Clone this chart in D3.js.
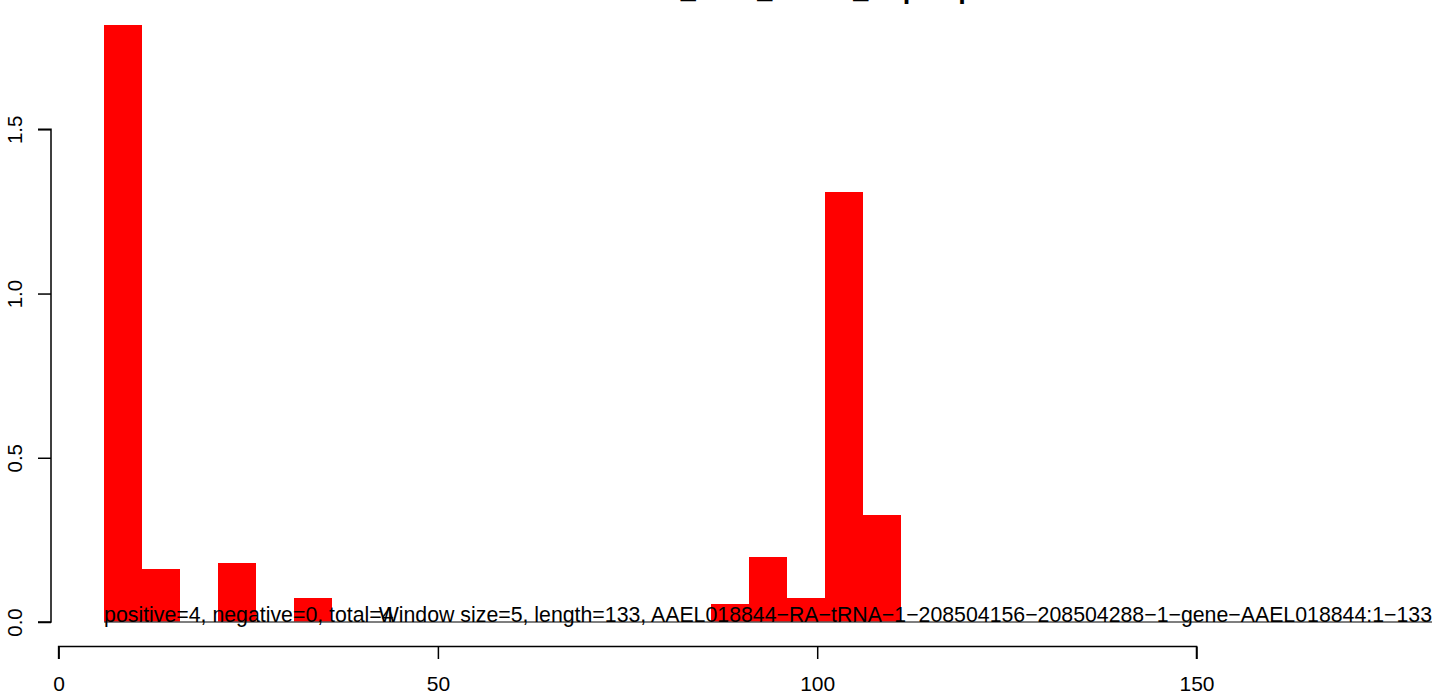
<!DOCTYPE html>
<html>
<head>
<meta charset="utf-8">
<script src="https://cdn.jsdelivr.net/npm/d3@7/dist/d3.min.js"></script>
<style>
  html, body { margin: 0; padding: 0; background: #fff; }
  svg { display: block; }
  text { font-family: "Liberation Sans", Arial, sans-serif; }
</style>
</head>
<body>
<svg id="chart" width="1436" height="697"></svg>
<script>
// ---- data ----
const windowStarts = [6, 11, 21, 31, 86, 91, 96, 101, 106];
const windowValues = [1.818, 0.161, 0.180, 0.073, 0.055, 0.198, 0.074, 1.309, 0.326];
const windowSize = 5;
const xTicks = [0, 50, 100, 150];
const yTicks = [0, 0.5, 1.0, 1.5];
const yTickLabels = ["0.0", "0.5", "1.0", "1.5"];
const titleText = "AAEL018844_ZIKV_siRNA_Repseq";
const countsText = "positive=4, negative=0, total=4";
const infoText = "Window size=5, length=133, AAEL018844\u2212RA\u2212tRNA\u22121\u2212208504156\u2212208504288\u22121\u2212gene\u2212AAEL018844:1\u2212133";

// ---- layout ----
const W = 1436, H = 697;
const plot = { left: 51, right: 1432, top: 0, bottom: 646.5 };
const svg = d3.select("#chart");

const x = d3.scaleLinear().domain([0, 150]).range([58.6, 58.6 + 150 * 7.586]);
const y = d3.scaleLinear().domain([0, 1.5]).range([622, 622 - 1.5 * 328.45]);

// bars
svg.append("g").selectAll("rect")
  .data(windowStarts.map((s, i) => ({ s, v: windowValues[i] })))
  .join("rect")
  .attr("x", d => x(d.s))
  .attr("width", d => x(d.s + windowSize) - x(d.s))
  .attr("y", d => y(d.v))
  .attr("height", d => y(0) - y(d.v))
  .attr("fill", "#ff0000")
  .attr("shape-rendering", "crispEdges");

// baseline segment
svg.append("line")
  .attr("x1", x(windowStarts[0])).attr("x2", plot.right)
  .attr("y1", y(0)).attr("y2", y(0))
  .attr("stroke", "#555").attr("stroke-width", 1.3);

// bottom texts
const fs = 21.3;
svg.append("text")
  .attr("x", x(windowStarts[0])).attr("y", y(0))
  .attr("font-size", fs).attr("fill", "#000")
  .text(countsText);
svg.append("text")
  .attr("x", plot.right).attr("y", y(0))
  .attr("text-anchor", "end")
  .attr("font-size", fs).attr("fill", "#000")
  .text(infoText);

// x axis
const xAxis = d3.axisBottom(x).tickValues(xTicks).tickSize(12.5).tickPadding(17).tickFormat(d3.format("d"));
const gx = svg.append("g").attr("transform", `translate(0,${plot.bottom})`).call(xAxis);
gx.select(".domain").attr("stroke", "#000").attr("stroke-width", 1.5)
  .attr("d", `M${x(0)},12.5V0H${x(150)}V12.5`);
gx.selectAll(".tick line").attr("stroke", "#000").attr("stroke-width", 1.5);
gx.selectAll(".tick text").attr("font-size", 21).attr("fill", "#000")
  .attr("font-family", "Liberation Sans, Arial, sans-serif");

// y axis
const yAxis = d3.axisLeft(y).tickValues(yTicks).tickSize(13).tickFormat((d, i) => yTickLabels[i]);
const gy = svg.append("g").attr("transform", `translate(${plot.left},0)`).call(yAxis);
gy.select(".domain").attr("stroke", "#000").attr("stroke-width", 1.5)
  .attr("d", `M-13,${y(0)}H0V${y(1.5)}H-13`);
gy.selectAll(".tick line").attr("stroke", "#000").attr("stroke-width", 1.5);
gy.selectAll(".tick text")
  .attr("font-size", 20.5).attr("fill", "#000")
  .attr("font-family", "Liberation Sans, Arial, sans-serif")
  .attr("text-anchor", "middle")
  .attr("dy", null)
  .attr("x", null)
  .attr("transform", "translate(-29,0) rotate(-90)")
  .attr("y", 0);

// title (clipped at the top, as in the reference)
svg.append("text")
  .attr("x", (plot.left + plot.right) / 2).attr("y", -2.4)
  .attr("text-anchor", "middle")
  .attr("font-size", 27).attr("font-weight", "bold").attr("fill", "#000")
  .text(titleText);
</script>
</body>
</html>
